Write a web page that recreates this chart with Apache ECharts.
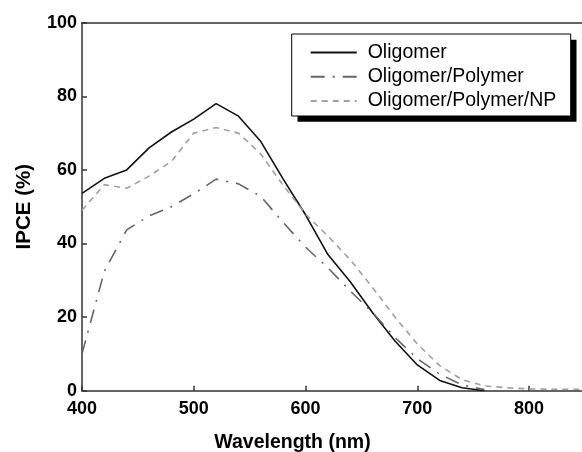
<!DOCTYPE html>
<html>
<head>
<meta charset="utf-8">
<script src="https://cdn.jsdelivr.net/npm/echarts@6/dist/echarts.min.js"></script>
<style>
  html, body { margin: 0; padding: 0; background: #fff; }
  #chart { width: 582px; height: 452px; }
</style>
</head>
<body>
<div id="chart"></div>
<script>
// Wavelength (nm) sample points
const wavelengths = [400, 420, 440, 460, 480, 500, 520, 540, 560, 580, 600, 620, 640, 660, 680, 700, 720, 740, 760];
const wavelengthsNP = [400, 420, 440, 460, 480, 500, 520, 540, 560, 580, 600, 620, 640, 660, 680, 700, 720, 740, 760, 780, 800, 820, 840, 850];

// IPCE (%) values
const oligomer = [53.6, 57.7, 60, 66, 70.3, 73.8, 78, 74.6, 67.7, 57.5, 47.8, 37, 29.6, 21.2, 13.5, 7, 2.8, 0.8, 0];
const oligomerPolymer = [10, 32.5, 43.7, 47.5, 50, 53.5, 57.5, 56.2, 52.8, 45.7, 39, 33.4, 27.1, 21.2, 14.5, 8.7, 4.5, 1.6, 0.3];
const oligomerPolymerNP = [49, 56, 55, 58.3, 62.3, 70, 71.5, 70, 64.3, 55.8, 48, 42, 35.6, 28, 20, 12.7, 6.8, 3, 1.3, 0.8, 0.5, 0.4, 0.4, 0.4];

const seriesNames = ['Oligomer', 'Oligomer/Polymer', 'Oligomer/Polymer/NP'];
const xTicks = [400, 500, 600, 700, 800];
const yTicks = [0, 20, 40, 60, 80, 100];

function pairs(xs, ys) { return ys.map((v, i) => [xs[i], v]); }

const FONT = '"Liberation Sans", Arial, sans-serif';
const axisColor = '#333';

// legend frame (decoration)
const LB = { x: 291.7, y: 34, w: 279, h: 82, off: 5.8 };

const chart = echarts.init(document.getElementById('chart'), null, { renderer: 'canvas' });
chart.setOption({
  animation: false,
  backgroundColor: '#fff',
  grid: { left: 82, top: 22.7, right: -3, bottom: 61.3, containLabel: false, outerBoundsMode: 'none' },
  graphic: [
    { type: 'rect', z: 3, silent: true,
      shape: { x: LB.x + LB.off, y: LB.y + LB.off, width: LB.w, height: LB.h },
      style: { fill: '#000' } },
    { type: 'rect', z: 3, silent: true,
      shape: { x: LB.x, y: LB.y, width: LB.w, height: LB.h },
      style: { fill: '#fff', stroke: '#000', lineWidth: 1 } }
  ],
  legend: {
    orient: 'vertical',
    left: LB.x,
    top: LB.y + 1,
    padding: [7.5, 12.5, 6, 18],
    itemWidth: 46,
    itemHeight: 20,
    itemGap: 4.3,
    backgroundColor: 'transparent',
    borderWidth: 0,
    z: 5,
    data: seriesNames,
    itemStyle: { opacity: 0 },
    textStyle: { fontFamily: FONT, fontSize: 19.5, color: '#000', padding: [0, 0, 0, 6] }
  },
  xAxis: [{
    type: 'value',
    min: xTicks[0],
    max: 850,
    interval: 100,
    position: 'bottom',
    name: 'Wavelength (nm)',
    nameLocation: 'middle',
    nameGap: 41.5,
    nameTextStyle: { fontFamily: FONT, fontSize: 19.5, fontWeight: 'bold', color: '#000', padding: [0, 82, 0, 0] },
    axisLine: { show: true, lineStyle: { color: axisColor, width: 1.5 } },
    axisTick: { show: true, inside: true, length: 5, lineStyle: { color: axisColor, width: 1.5 } },
    axisLabel: {
      margin: 9, fontFamily: FONT, fontSize: 18, fontWeight: 'bold', color: '#000',
      formatter: v => (xTicks.indexOf(v) >= 0 ? String(v) : '')
    },
    splitLine: { show: false }
  }, {
    type: 'value',
    min: xTicks[0],
    max: 850,
    interval: 100,
    position: 'top',
    axisLine: { show: true, lineStyle: { color: axisColor, width: 1.5 } },
    axisTick: { show: false },
    axisLabel: { show: false },
    splitLine: { show: false }
  }],
  yAxis: {
    type: 'value',
    min: yTicks[0],
    max: yTicks[yTicks.length - 1],
    interval: 20,
    name: 'IPCE (%)',
    nameLocation: 'middle',
    nameGap: 47,
    nameRotate: 90,
    nameTextStyle: { fontFamily: FONT, fontSize: 20.5, fontWeight: 'bold', color: '#000' },
    axisLine: { show: true, lineStyle: { color: axisColor, width: 1.5 } },
    axisTick: { show: true, inside: true, length: 5, lineStyle: { color: axisColor, width: 1.5 } },
    axisLabel: { margin: 5, fontFamily: FONT, fontSize: 18, fontWeight: 'bold', color: '#000' },
    splitLine: { show: false }
  },
  series: [
    {
      name: seriesNames[0], type: 'line', xAxisIndex: 0,
      data: pairs(wavelengths, oligomer),
      symbol: 'none', showSymbol: false,
      lineStyle: { color: '#111', width: 1.6, type: 'solid' },
      itemStyle: { color: '#111' }
    },
    {
      name: seriesNames[1], type: 'line', xAxisIndex: 0,
      data: pairs(wavelengths, oligomerPolymer),
      symbol: 'none', showSymbol: false,
      lineStyle: { color: '#666', width: 1.6, type: [14, 8, 2, 8] },
      itemStyle: { color: '#666' }
    },
    {
      name: seriesNames[2], type: 'line', xAxisIndex: 0,
      data: pairs(wavelengthsNP, oligomerPolymerNP),
      symbol: 'none', showSymbol: false,
      lineStyle: { color: '#a0a0a0', width: 1.6, type: [6, 5] },
      itemStyle: { color: '#a0a0a0' }
    }
  ]
});
</script>
</body>
</html>
